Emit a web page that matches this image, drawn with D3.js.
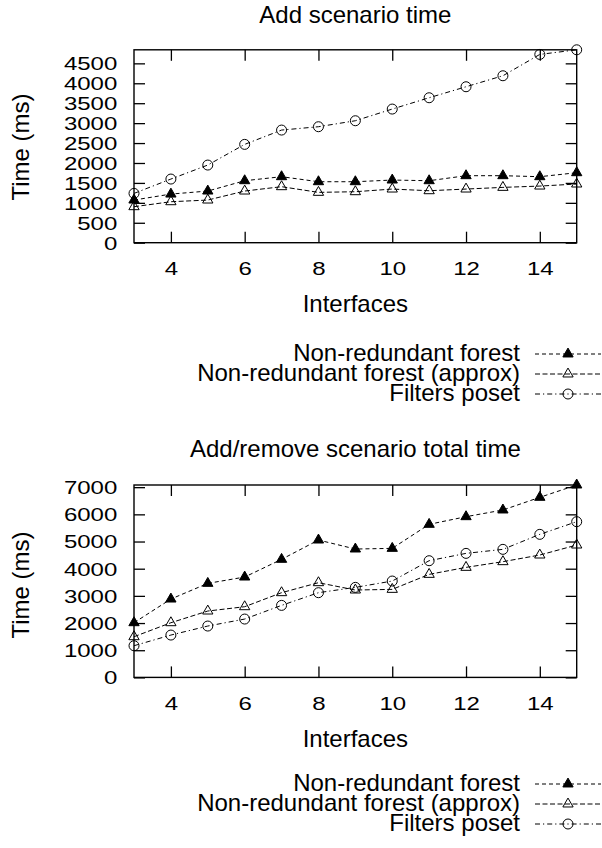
<!DOCTYPE html>
<html>
<head>
<meta charset="utf-8">
<script src="https://cdn.jsdelivr.net/npm/d3@7"></script>
<style>
  body { margin: 0; background: #fff; }
  text { font-family: "Liberation Sans", Arial, sans-serif; fill: #000; }
</style>
</head>
<body>
<div id="chart"></div>
<script>
/* CONSTANTS AND GLOBALS */
const width = 602,
  height = 848,
  margin = { left: 134, right: 25.3 };

/* DATA */
const interfaces = [3, 4, 5, 6, 7, 8, 9, 10, 11, 12, 13, 14, 15];
const xTicks = [4, 6, 8, 10, 12, 14];
const seriesNames = ["Non-redundant forest", "Non-redundant forest (approx)", "Filters poset"];

// Add scenario time
const addForest = [1070, 1220, 1296, 1555, 1656, 1530, 1530, 1572, 1555, 1681, 1681, 1656, 1756];
const addApprox = [903, 1028, 1070, 1296, 1405, 1263, 1279, 1346, 1304, 1346, 1388, 1421, 1472];
const addPoset = [1237, 1597, 1948, 2467, 2826, 2910, 3060, 3353, 3637, 3913, 4189, 4724, 4840];
const addYTicks = [0, 500, 1000, 1500, 2000, 2500, 3000, 3500, 4000, 4500];

// Add/remove scenario total time
const totalForest = [2012, 2883, 3460, 3693, 4344, 5055, 4724, 4748, 5632, 5914, 6160, 6626, 7080];
const totalApprox = [1497, 2012, 2442, 2601, 3117, 3485, 3215, 3239, 3791, 4049, 4258, 4503, 4871];
const totalPoset = [1166, 1558, 1890, 2147, 2650, 3117, 3313, 3546, 4294, 4564, 4712, 5264, 5730];
const totalYTicks = [0, 1000, 2000, 3000, 4000, 5000, 6000, 7000];

// line / marker style per series
const styles = [
  { dash: "4,3", marker: "filled" },
  { dash: "5,2.5", marker: "open" },
  { dash: "5,3,1.2,3", marker: "circle" }
];

// tick labels are drawn a bit smaller and stretched wide, like the original digits
const tickFont = 17.8,
  tickStretch = 1.35;

const svg = d3.select("#chart")
  .append("svg")
  .attr("width", width)
  .attr("height", height);

function drawMarker(g, type, x, y) {
  if (type === "circle") {
    g.append("circle")
      .attr("cx", x).attr("cy", y).attr("r", 5)
      .attr("fill", "none").attr("stroke", "#000").attr("stroke-width", 1);
  } else {
    g.append("path")
      .attr("d", d3.symbol(d3.symbolTriangle, 46)())
      .attr("transform", `translate(${x},${y})`)
      .attr("fill", type === "filled" ? "#000" : "none")
      .attr("stroke", "#000").attr("stroke-width", 1);
  }
}

function drawPanel(opts) {
  const { title, series, yTicks, top, bottom, titleY, xLabelY, yLabelY, tickLabelY, legendY } = opts;
  const g = svg.append("g");

  const xScale = d3.scaleLinear()
    .domain(d3.extent(interfaces))
    .range([margin.left, width - margin.right]);

  const yScale = d3.scaleLinear()
    .domain([0, d3.max(series.flat())])
    .range([bottom, top]);

  const midX = (xScale.range()[0] + xScale.range()[1]) / 2;

  // title
  g.append("text")
    .attr("x", midX)
    .attr("y", titleY)
    .attr("text-anchor", "middle")
    .attr("font-size", 24)
    .text(title);

  // axes, ticks pointing inwards and mirrored
  const xAxis = g.append("g")
    .attr("transform", `translate(0,${bottom})`)
    .call(d3.axisBottom(xScale).tickValues(xTicks).tickSizeInner(-11).tickSizeOuter(0).tickFormat(d3.format("d")));
  g.append("g")
    .attr("transform", `translate(0,${top})`)
    .call(d3.axisTop(xScale).tickValues(xTicks).tickSizeInner(-11).tickSizeOuter(0).tickFormat(""));
  const yAxis = g.append("g")
    .attr("transform", `translate(${margin.left},0)`)
    .call(d3.axisLeft(yScale).tickValues(yTicks).tickSizeInner(-11).tickSizeOuter(0).tickFormat(d3.format("d")));
  g.append("g")
    .attr("transform", `translate(${width - margin.right},0)`)
    .call(d3.axisRight(yScale).tickValues(yTicks).tickSizeInner(-11).tickSizeOuter(0).tickFormat(""));

  g.selectAll(".domain").remove();
  g.selectAll(".tick line").attr("stroke", "#000").attr("stroke-width", 1.3);

  xAxis.selectAll("text")
    .attr("font-size", tickFont)
    .attr("font-family", "'Liberation Sans', Arial, sans-serif")
    .attr("y", tickLabelY)
    .attr("dy", 0)
    .attr("transform", `scale(${tickStretch},1)`);
  yAxis.selectAll("text")
    .attr("font-size", tickFont)
    .attr("font-family", "'Liberation Sans', Arial, sans-serif")
    .attr("x", -16.7 / tickStretch)
    .attr("dy", "0.36em")
    .attr("transform", `scale(${tickStretch},1)`);

  // frame
  g.append("rect")
    .attr("x", margin.left)
    .attr("y", top)
    .attr("width", width - margin.right - margin.left)
    .attr("height", bottom - top)
    .attr("fill", "none")
    .attr("stroke", "#000")
    .attr("stroke-width", 1.4);

  // axis labels
  g.append("text")
    .attr("x", midX)
    .attr("y", xLabelY)
    .attr("text-anchor", "middle")
    .attr("font-size", 24)
    .text("Interfaces");

  g.append("text")
    .attr("transform", `translate(28.5,${yLabelY}) rotate(-90)`)
    .attr("text-anchor", "middle")
    .attr("font-size", 24)
    .text("Time (ms)");

  // series
  const line = d3.line()
    .x((d, i) => xScale(interfaces[i]))
    .y(d => yScale(d));

  series.forEach((values, s) => {
    g.append("path")
      .datum(values)
      .attr("d", line)
      .attr("fill", "none")
      .attr("stroke", "#000")
      .attr("stroke-width", 1)
      .attr("stroke-dasharray", styles[s].dash);
    values.forEach((v, i) => drawMarker(g, styles[s].marker, xScale(interfaces[i]), yScale(v)));
  });

  // legend
  seriesNames.forEach((name, s) => {
    const base = legendY + s * 20;
    g.append("text")
      .attr("x", 520)
      .attr("y", base)
      .attr("text-anchor", "end")
      .attr("font-size", 24)
      .text(name);
    g.append("line")
      .attr("x1", 535).attr("x2", 601)
      .attr("y1", base - 7).attr("y2", base - 7)
      .attr("stroke", "#000")
      .attr("stroke-width", 1)
      .attr("stroke-dasharray", styles[s].dash);
    drawMarker(g, styles[s].marker, 568, base - 7);
  });
}

drawPanel({
  title: "Add scenario time",
  series: [addForest, addApprox, addPoset],
  yTicks: addYTicks,
  top: 49.8, bottom: 242.7,
  titleY: 22.7, tickLabelY: 32.3, xLabelY: 311.7, yLabelY: 147, legendY: 361
});

drawPanel({
  title: "Add/remove scenario total time",
  series: [totalForest, totalApprox, totalPoset],
  yTicks: totalYTicks,
  top: 485, bottom: 677.4,
  titleY: 457.3, tickLabelY: 32.3, xLabelY: 746.5, yLabelY: 585, legendY: 791
});
</script>
</body>
</html>
